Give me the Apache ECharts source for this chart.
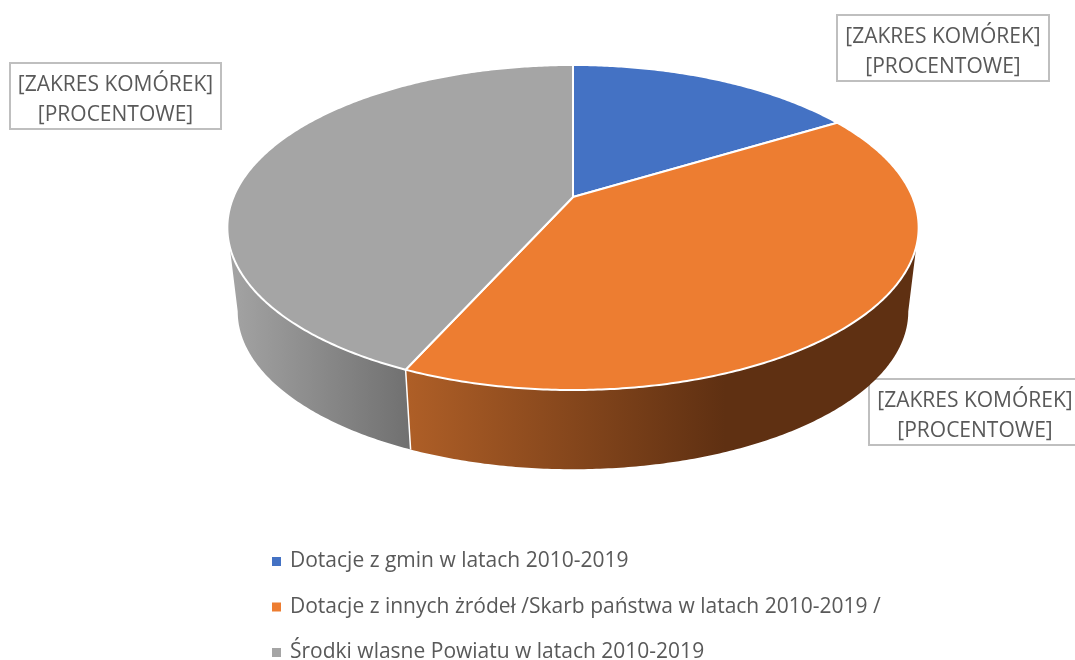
<!DOCTYPE html>
<html>
<head>
<meta charset="utf-8">
<style>
  html, body { margin: 0; padding: 0; background: #fff; }
  #main { width: 1075px; height: 660px; }
</style>
</head>
<body>
<div id="main"></div>
<script src="https://cdn.jsdelivr.net/npm/echarts@6/dist/echarts.min.js"></script>
<script>
var sliceNames = [
  "Dotacje z gmin w latach 2010-2019",
  "Dotacje z innych żródeł /Skarb państwa w latach 2010-2019 /",
  "Środki wlasne Powiatu w latach 2010-2019"
];
var sliceValues = [16.3, 40.4, 43.3];
var sliceColors = ["#4472c4", "#ed7d31", "#a5a5a5"];
var labelLines = "[ZAKRES KOMÓREK]\n[PROCENTOWE]";

var fontName = "'Open Sans', sans-serif";

// perspective of the disc
var apexX = 573, apexY = 197, bottomY = 282, bottomScale = 0.97;
var radX = 339.5, radY = 156.8, tilt = 0.1877;

// only this part of the rim faces the viewer
var wallFrom = Math.acos(-tilt), wallTo = Math.PI * 2 - wallFrom;

function project(angle, originY, scale) {
  var u = Math.sin(angle), v = Math.cos(angle);
  var d = 1 + tilt * v;
  return [apexX + scale * radX * u / d, originY - scale * radY * v / d];
}

function arcPoints(a0, a1, originY, scale) {
  var steps = Math.max(2, Math.ceil((a1 - a0) / 0.01));
  var pts = [];
  for (var i = 0; i <= steps; i++) {
    pts.push(project(a0 + (a1 - a0) * i / steps, originY, scale));
  }
  return pts;
}

// angle range of each slice, from the values
var total = sliceValues.reduce(function (s, v) { return s + v; }, 0);
var sliceAngles = [];
var running = 0;
sliceValues.forEach(function (v) {
  var a0 = running / total * Math.PI * 2;
  running += v;
  sliceAngles.push([a0, running / total * Math.PI * 2]);
});

var LinearGradient = echarts.graphic.LinearGradient;
var wallFills = [
  "#2c4a80",
  new LinearGradient(405, 0, 725, 0, [
    { offset: 0, color: "#af5f27" },
    { offset: 1, color: "#5f3012" }
  ], true),
  new LinearGradient(235, 0, 410, 0, [
    { offset: 0, color: "#a2a2a2" },
    { offset: 1, color: "#707070" }
  ], true)
];

function renderTop(params, api) {
  var pts = [[apexX, apexY]].concat(arcPoints(api.value(0), api.value(1), apexY, 1));
  return {
    type: "polygon",
    shape: { points: pts },
    style: { fill: sliceColors[params.seriesIndex - 3], stroke: "#fff", lineWidth: 2, lineJoin: "round" }
  };
}

function renderWall(params, api) {
  var a0 = Math.max(api.value(0), wallFrom), a1 = Math.min(api.value(1), wallTo);
  if (a1 <= a0) {
    return null;
  }
  var pts = arcPoints(a0, a1, apexY, 1).concat(arcPoints(a0, a1, bottomY, bottomScale).reverse());
  var seam = [project(a0, apexY, 1), project(a0, bottomY, bottomScale)];
  var children = [
    { type: "polygon", shape: { points: pts }, style: { fill: wallFills[params.seriesIndex] } }
  ];
  if (a0 > wallFrom) {
    children.push({
      type: "line",
      shape: { x1: seam[0][0], y1: seam[0][1], x2: seam[1][0], y2: seam[1][1] },
      style: { stroke: "#fff", lineWidth: 1.5 }
    });
  }
  return { type: "group", children: children };
}

var series = [];
sliceNames.forEach(function (name, i) {
  series.push({
    name: name,
    type: "custom",
    coordinateSystem: "none",
    silent: true,
    z: 2,
    itemStyle: { color: sliceColors[i] },
    renderItem: renderWall,
    data: [sliceAngles[i]]
  });
});
sliceNames.forEach(function (name, i) {
  series.push({
    name: name,
    type: "custom",
    coordinateSystem: "none",
    silent: true,
    z: 3,
    itemStyle: { color: sliceColors[i] },
    renderItem: renderTop,
    data: [sliceAngles[i]]
  });
});

function labelBox(x, y, w, h) {
  return {
    type: "group",
    z: 10,
    children: [
      {
        type: "rect",
        shape: { x: x, y: y, width: w, height: h },
        style: { fill: "#fff", stroke: "#bfbfbf", lineWidth: 2 }
      },
      {
        type: "text",
        x: x + w / 2,
        y: y + h / 2 + 4,
        style: {
          text: labelLines,
          font: "21px " + fontName,
          lineHeight: 30,
          fill: "#595959",
          align: "center",
          verticalAlign: "middle"
        }
      }
    ]
  };
}

var myChart = echarts.init(document.getElementById("main"));
myChart.setOption({
  animation: false,
  legend: {
    data: sliceNames,
    orient: "vertical",
    left: 272,
    top: 551,
    height: 140,
    padding: 0,
    icon: "rect",
    itemWidth: 9,
    itemHeight: 9,
    itemGap: 24.5,
    selectedMode: false,
    textStyle: { fontFamily: fontName, fontSize: 21, color: "#595959", padding: [0, 0, 0, 4] }
  },
  graphic: [
    labelBox(837, 15, 212, 66),
    labelBox(10, 63, 211, 66),
    labelBox(869, 379, 212, 66)
  ],
  series: series
});
</script>
</body>
</html>
